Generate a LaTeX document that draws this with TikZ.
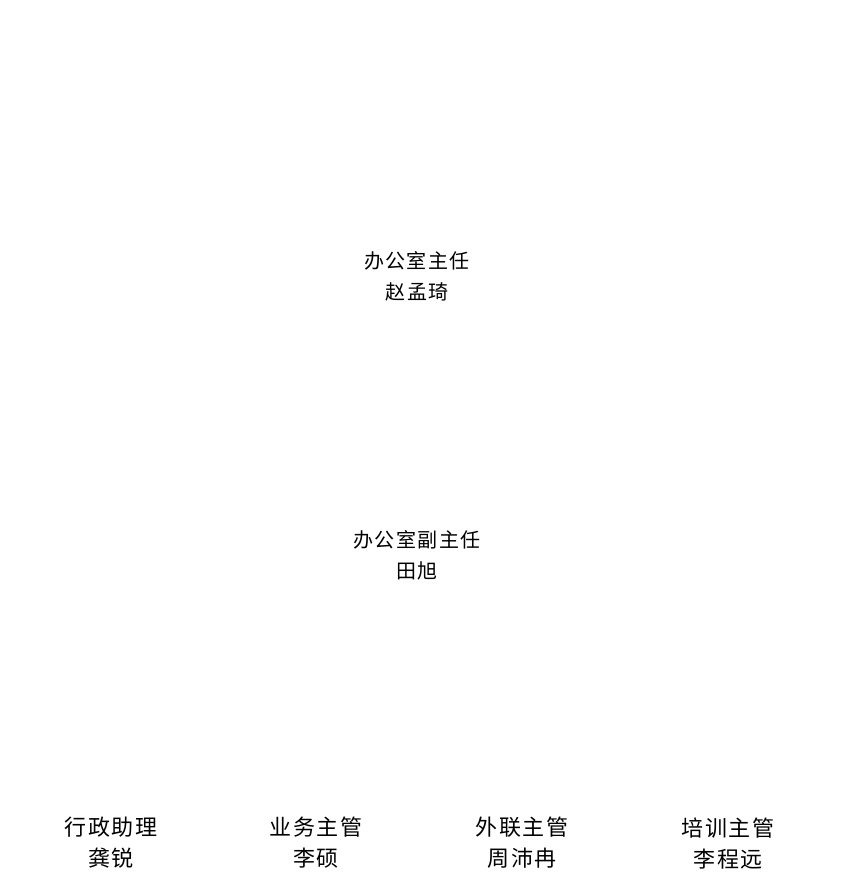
\documentclass[tikz,border=0pt]{standalone}
\usepackage{fontspec}
\setmainfont[LetterSpace=7]{Noto Sans CJK SC}
\begin{document}
\begin{tikzpicture}[x=1pt,y=-1pt,
    person/.style={align=center,inner sep=0pt,font=\fontsize{20}{31}\selectfont},
    staff/.style={person,font=\fontsize{22}{31}\selectfont}]
    \useasboundingbox[fill=white] (0,0) rectangle (846,879);
    \node[person] (head) at (417,276) {办公室主任\\赵孟琦};
    \node[person] (deputy) at (417,555) {办公室副主任\\田旭};
    \node[staff] (admin) at (111,843) {行政助理\\龚锐};
    \node[staff] (business) at (316,843) {业务主管\\李硕};
    \node[staff] (liaison) at (522,843) {外联主管\\周沛冉};
    \node[staff] (training) at (728,844) {培训主管\\李程远};
\end{tikzpicture}
\end{document}
